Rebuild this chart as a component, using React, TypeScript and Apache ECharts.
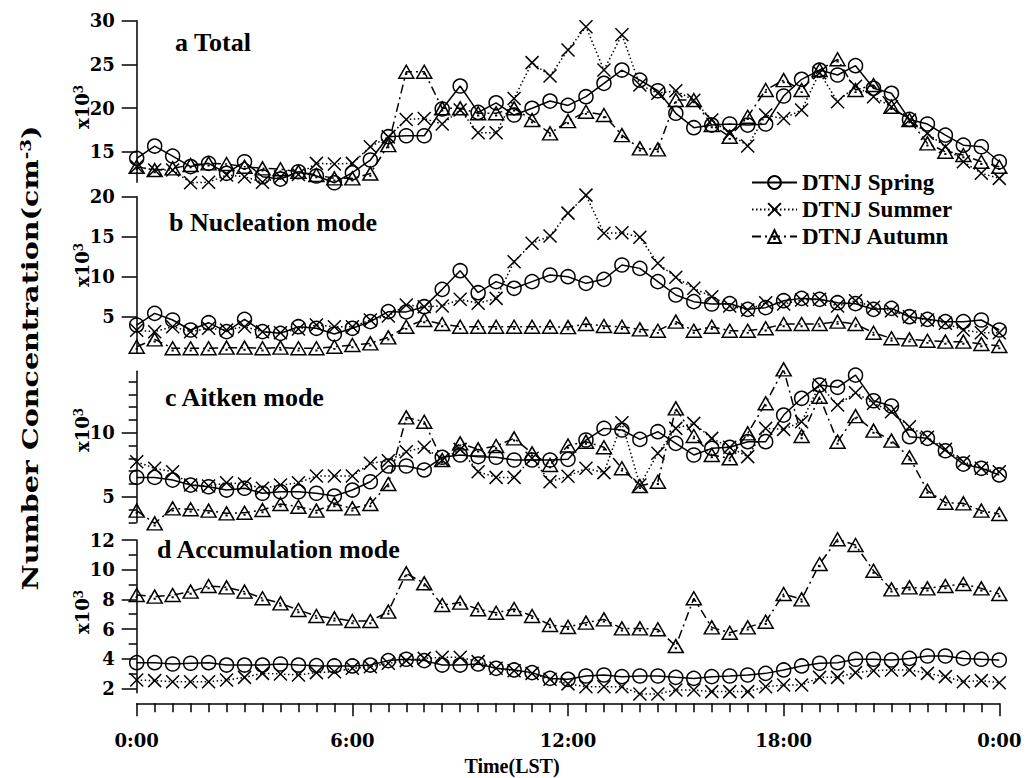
import React, { useEffect, useRef } from "react";
import * as echarts from "echarts";

// Time of day (hours, LST), one point every 30 minutes
const hours = [
  0, 0.5, 1, 1.5, 2, 2.5, 3, 3.5, 4, 4.5, 5, 5.5, 6, 6.5, 7, 7.5, 8, 8.5, 9, 9.5,
  10, 10.5, 11, 11.5, 12, 12.5, 13, 13.5, 14, 14.5, 15, 15.5, 16, 16.5, 17, 17.5,
  18, 18.5, 19, 19.5, 20, 20.5, 21, 21.5, 22, 22.5, 23, 23.5, 24,
];

const seriesNames = ["DTNJ Spring", "DTNJ Summer", "DTNJ Autumn"];
const panelTitles = ["a Total", "b Nucleation mode", "c Aitken mode", "d Accumulation mode"];

// a Total (x10^3 cm^-3)
const springTotal = [14.24, 15.65, 14.5, 13.3, 13.67, 12.53, 13.85, 12.14, 11.87, 12.71, 12.22, 11.45, 12.6, 14.05, 16.72, 16.83, 16.83, 19.89, 22.52, 19.5, 20.6, 19.2, 19.97, 20.8, 20.3, 21.3, 22.83, 24.35, 23.2, 21.98, 19.4, 17.75, 18.05, 18.17, 18.05, 18.17, 21.38, 23.29, 24.35, 23.78, 24.85, 22.26, 21.69, 18.7, 18.17, 16.9, 15.75, 15.57, 13.85];
const summerTotal = [13.3, 12.9, 12.9, 11.45, 11.5, 12.33, 12.14, 11.5, 12.1, 12.4, 13.67, 13.6, 13.67, 15.57, 16.7, 18.7, 18.8, 18.17, 19.77, 17.17, 17.17, 21.1, 25.2, 23.67, 26.65, 29.3, 24.35, 28.4, 22.64, 21.7, 21.98, 20.9, 18.63, 17.1, 15.65, 19.2, 18.8, 19.78, 24.05, 20.73, 22.5, 21.3, 20.15, 18.63, 17.1, 15.57, 13.85, 12.53, 11.95];
const autumnTotal = [13.28, 12.9, 13.1, 13.48, 13.67, 13.6, 13.28, 13.1, 13.0, 12.7, 12.33, 11.95, 11.95, 12.5, 15.76, 24.16, 24.16, 19.97, 19.97, 19.4, 19.4, 19.97, 18.63, 17.1, 18.5, 19.58, 19.2, 16.9, 15.38, 15.27, 20.92, 20.92, 18.06, 16.72, 19.0, 22.07, 23.2, 22.07, 24.35, 25.58, 22.07, 22.64, 20.15, 18.63, 15.96, 15.0, 14.62, 13.85, 13.28];

// b Nucleation mode
const springNuc = [3.96, 5.42, 4.59, 3.34, 4.25, 3.13, 4.67, 3.13, 2.92, 3.75, 3.55, 2.84, 3.55, 4.38, 5.63, 5.6, 6.25, 8.42, 10.75, 8.0, 9.38, 8.55, 9.38, 10.21, 10.0, 9.17, 9.67, 11.46, 11.04, 9.38, 7.71, 6.88, 6.59, 6.63, 5.92, 6.13, 7.0, 7.29, 7.17, 6.75, 6.63, 5.92, 6.04, 5.0, 4.67, 4.38, 4.38, 4.59, 3.34];
const summerNuc = [3.3, 3.13, 3.75, 3.13, 3.55, 3.34, 3.75, 3.13, 3.0, 3.46, 3.96, 3.75, 3.75, 4.59, 5.09, 6.46, 6.25, 6.34, 7.17, 6.67, 7.29, 11.88, 14.17, 15.09, 17.95, 20.2, 15.42, 15.5, 14.92, 11.67, 9.92, 8.55, 7.5, 6.34, 5.84, 6.75, 6.59, 7.09, 7.17, 6.34, 7.0, 6.17, 5.75, 5.0, 4.59, 4.17, 3.34, 3.0, 3.0];
const autumnNuc = [1.25, 2.17, 1.05, 1.05, 1.05, 1.13, 1.13, 1.05, 1.13, 1.05, 1.05, 1.25, 1.46, 1.67, 2.42, 3.75, 4.58, 4.08, 3.75, 3.75, 3.75, 3.75, 3.75, 3.75, 3.7, 4.08, 3.84, 3.75, 3.42, 3.25, 4.38, 3.25, 3.75, 3.25, 3.25, 3.55, 4.08, 4.08, 4.08, 4.38, 4.08, 3.0, 2.3, 2.17, 2.0, 1.88, 1.88, 1.59, 1.34];

// c Aitken mode
const springAit = [6.51, 6.51, 6.3, 5.91, 5.78, 5.52, 5.66, 5.27, 5.39, 5.39, 5.27, 5.05, 5.52, 6.17, 7.4, 7.4, 7.09, 8.08, 8.26, 8.13, 8.08, 7.87, 7.87, 7.87, 7.92, 9.43, 10.34, 10.21, 9.48, 10.08, 9.17, 8.26, 8.78, 8.86, 9.3, 9.3, 11.38, 12.69, 13.73, 13.55, 14.5, 12.5, 12.09, 9.69, 9.56, 8.59, 7.55, 7.22, 6.7];
const summerAit = [7.73, 7.22, 6.95, 5.91, 5.84, 6.09, 5.99, 5.66, 5.91, 6.09, 6.62, 6.62, 6.62, 7.61, 7.81, 8.52, 8.86, 7.87, 8.7, 6.95, 6.51, 6.51, 8.0, 6.17, 6.6, 7.22, 6.88, 10.78, 5.91, 8.39, 10.34, 10.73, 9.56, 8.86, 8.13, 10.34, 10.26, 10.86, 13.73, 12.16, 13.13, 12.3, 11.64, 10.47, 9.64, 8.7, 7.73, 7.22, 6.95];
const autumnAit = [3.91, 2.92, 4.09, 4.02, 3.91, 3.7, 3.75, 3.96, 4.43, 4.22, 3.91, 4.43, 4.09, 4.43, 5.99, 11.2, 10.86, 7.87, 9.17, 8.7, 8.96, 9.56, 8.39, 7.48, 9.0, 9.3, 8.86, 7.22, 5.84, 6.17, 11.9, 9.74, 8.26, 8.0, 9.95, 12.3, 14.95, 9.74, 12.81, 9.3, 11.3, 10.16, 9.38, 8.08, 5.47, 4.53, 4.48, 3.91, 3.65];

// d Accumulation mode
const springAcc = [3.73, 3.73, 3.64, 3.69, 3.73, 3.57, 3.57, 3.57, 3.64, 3.57, 3.53, 3.51, 3.51, 3.57, 3.87, 3.96, 3.87, 3.57, 3.57, 3.64, 3.35, 3.24, 3.06, 2.67, 2.61, 2.83, 2.9, 2.79, 2.83, 2.83, 2.74, 2.67, 2.79, 2.83, 2.9, 3.01, 3.24, 3.51, 3.69, 3.73, 3.96, 3.96, 3.91, 4.02, 4.18, 4.18, 4.02, 3.96, 3.91];
const summerAcc = [2.56, 2.52, 2.45, 2.45, 2.45, 2.56, 2.74, 3.01, 2.97, 2.9, 3.06, 3.12, 3.35, 3.46, 3.69, 3.87, 4.02, 4.09, 4.09, 3.8, 3.35, 3.19, 3.01, 2.61, 2.3, 2.11, 2.11, 2.11, 1.62, 1.62, 1.89, 1.89, 1.78, 1.78, 1.78, 2.11, 2.22, 2.22, 2.74, 2.74, 3.06, 3.19, 3.24, 3.24, 3.01, 2.79, 2.45, 2.52, 2.38];
const autumnAcc = [8.29, 8.18, 8.29, 8.52, 8.9, 8.81, 8.52, 8.07, 7.73, 7.28, 6.88, 6.72, 6.54, 6.54, 7.17, 9.75, 9.08, 7.62, 7.78, 7.33, 7.1, 7.35, 6.88, 6.27, 6.14, 6.43, 6.65, 6.04, 6.04, 5.98, 4.85, 8.07, 6.11, 5.75, 6.11, 6.49, 8.36, 8.0, 10.38, 12.05, 11.66, 9.93, 8.67, 8.81, 8.74, 8.9, 9.03, 8.74, 8.36];

// y-axis tick labels per panel, and unlabeled minor ticks
const tickLabelsA = [15, 20, 25, 30];
const tickLabelsB = [5, 10, 15, 20];
const tickLabelsC = [5, 10];
const tickLabelsD = [2, 4, 6, 8, 10, 12];
const minorTicksC = [3, 4, 6, 7, 8, 9, 11, 12, 13, 14];
const minorTicksD = [3, 5, 7, 9, 11];
const xTickHours = [0, 6, 12, 18, 24];

const panelData = [
  [springTotal, summerTotal, autumnTotal],
  [springNuc, summerNuc, autumnNuc],
  [springAit, summerAit, autumnAit],
  [springAcc, summerAcc, autumnAcc],
];

const SERIF = '"Liberation Serif", "Times New Roman", serif';
const AXF = '"DejaVu Serif", serif';

const layout = [
  { min: 11.5, max: 30, top: 20.7, height: 161.6, labels: tickLabelsA, minors: [] as number[] },
  { min: 0.5, max: 20, top: 196.7, height: 156, labels: tickLabelsB, minors: [] as number[] },
  { min: 3, max: 14.8, top: 371.3, height: 151, labels: tickLabelsC, minors: minorTicksC },
  { min: 1.7, max: 12, top: 540, height: 152.8, labels: tickLabelsD, minors: minorTicksD },
];

const symbols = [
  "circle",
  "path://M0,0L10,10M10,0L0,10",
  "path://M5,0L10,9L0,9Z M4.8,5.8L5.2,5.8L5.2,6.2L4.8,6.2Z",
];
const symbolSizes: any[] = [14, 13, [15, 13]];
const lineTypes: any[] = ["solid", [1.5, 2.5], [9, 4, 2, 4]];

export default function App() {
  const ref = useRef<HTMLDivElement>(null);
  useEffect(() => {
    if (!ref.current) return;
    const chart = echarts.init(ref.current, null, { renderer: "svg" });
    const left = 136.7;
    const width = 862.6;
    const grid = layout.map((p) => ({ left, width, top: p.top, height: p.height, outerBoundsMode: "none" }));
    const black = { color: "#000", width: 1.5 };
    const yAxis: any[] = layout.map((p, i) => ({
      gridIndex: i,
      type: "value",
      position: "left",
      min: p.min,
      max: p.max,
      axisLine: { show: true, lineStyle: black },
      axisTick: { show: true, length: 15, customValues: p.labels, lineStyle: black },
      axisLabel: {
        show: true,
        customValues: p.labels,
        margin: 22,
        color: "#000",
        fontFamily: AXF,
        fontWeight: "bold",
        fontSize: 18,
      },
      splitLine: { show: false },
    }));
    [2, 3].forEach((i) => {
      const p = layout[i];
      yAxis.push({
        gridIndex: i,
        type: "value",
        position: "left",
        offset: 0,
        min: p.min,
        max: p.max,
        axisLine: { show: false },
        axisTick: { show: true, length: 8, customValues: p.minors, lineStyle: black },
        axisLabel: { show: false },
        splitLine: { show: false },
      });
    });
    const xAxis: any[] = [0, 1, 2].map((i) => ({ gridIndex: i, type: "value", min: 0, max: 24, show: false }));
    xAxis.push({
      gridIndex: 3,
      type: "value",
      min: 0,
      max: 24,
      interval: 6,
      offset: 10.5,
      axisLine: { show: true, lineStyle: black },
      axisTick: { show: true, length: 13, lineStyle: black, customValues: xTickHours },
      minorTick: { show: true, splitNumber: 12, length: 9, lineStyle: black },
      axisLabel: {
        customValues: xTickHours,
        margin: 28,
        color: "#000",
        fontFamily: AXF,
        fontWeight: "bold",
        fontSize: 18,
        formatter: (v: number) => `${Math.round(v) % 24}:00`,
      },
      splitLine: { show: false },
    });

    const series: any[] = [];
    panelData.forEach((group, pi) => {
      group.forEach((arr, si) => {
        series.push({
          name: seriesNames[si],
          type: "line",
          xAxisIndex: pi,
          yAxisIndex: pi,
          data: hours.map((h, k) => [h, arr[k]]),
          symbol: symbols[si],
          symbolSize: symbolSizes[si],
          showAllSymbol: true,
          clip: false,
          silent: true,
          lineStyle: { color: "#000", width: 1.5, type: lineTypes[si] },
          itemStyle: { color: "transparent", borderColor: "#000", borderWidth: 1.5 },
          emphasis: { disabled: true },
        });
      });
    });

    const titleStyle = (text: string) => ({
      text,
      fontFamily: SERIF,
      fontWeight: "bold",
      fontSize: 26,
      fill: "#000",
      align: "left",
      verticalAlign: "middle",
      textAlign: "left",
      textVerticalAlign: "middle",
    });
    const titlePos = [
      [175, 42],
      [169, 222],
      [165, 397],
      [157, 549],
    ];
    const unitCenters = [107, 265, 430, 612];
    const graphic: any[] = [];
    panelTitles.forEach((t, i) => {
      graphic.push({ type: "text", x: titlePos[i][0], y: titlePos[i][1], style: titleStyle(t) });
    });
    unitCenters.forEach((cy) => {
      graphic.push({
        type: "text",
        x: 82,
        y: cy,
        rotation: Math.PI / 2,
        style: {
          text: "{m|x10}{s|3}",
          align: "center",
          verticalAlign: "middle",
          textAlign: "center",
          textVerticalAlign: "middle",
          fill: "#000",
          rich: {
            m: { fontFamily: AXF, fontWeight: "bold", fontSize: 18, fill: "#000", color: "#000" },
            s: { fontFamily: AXF, fontWeight: "bold", fontSize: 12, fill: "#000", color: "#000", verticalAlign: "top" },
          },
        },
      });
    });
    graphic.push({
      type: "text",
      x: 30,
      y: 358,
      rotation: Math.PI / 2,
      scaleX: 1.3,
      style: {
        text: "{m|Number Concentration(cm}{s|-3}{m|)}",
        align: "center",
        verticalAlign: "middle",
        textAlign: "center",
        textVerticalAlign: "middle",
        fill: "#000",
        rich: {
          m: { fontFamily: AXF, fontWeight: "bold", fontSize: 22, fill: "#000", color: "#000" },
          s: { fontFamily: AXF, fontWeight: "bold", fontSize: 14, fill: "#000", color: "#000", verticalAlign: "top" },
        },
      },
    });
    graphic.push({
      type: "text",
      x: 512,
      y: 766,
      style: {
        text: "Time(LST)",
        fontFamily: SERIF,
        fontWeight: "bold",
        fontSize: 20,
        fill: "#000",
        align: "center",
        verticalAlign: "middle",
        textAlign: "center",
        textVerticalAlign: "middle",
      },
    });

    chart.setOption({
      animation: false,
      backgroundColor: "#fff",
      grid,
      xAxis,
      yAxis,
      series,
      graphic,
      legend: {
        data: seriesNames,
        orient: "vertical",
        left: 746,
        top: 166,
        itemWidth: 45,
        itemHeight: 16,
        itemGap: 4,
        selectedMode: false,
        textStyle: { fontFamily: SERIF, fontWeight: "bold", fontSize: 23, color: "#000" },
      },
    });
    return () => chart.dispose();
  }, []);
  return (
    <div
      ref={ref}
      style={{ position: "fixed", left: 0, top: 0, width: 1027, height: 778, background: "#fff" }}
    />
  );
}
